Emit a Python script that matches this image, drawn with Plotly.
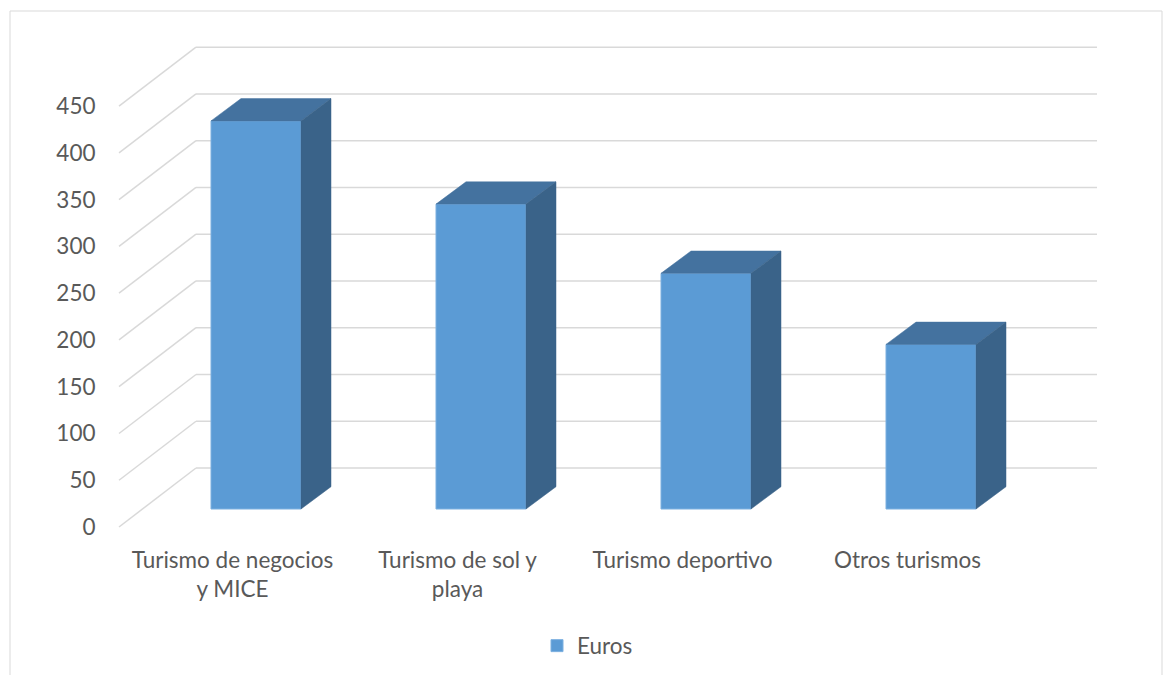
import plotly.graph_objects as go

# ---- data ----
categories = ["Turismo de negocios<br>y MICE", "Turismo de sol y<br>playa",
              "Turismo deportivo", "Otros turismos"]
values = [415, 326, 252, 176]
series_name = "Euros"
y_ticks = [0, 50, 100, 150, 200, 250, 300, 350, 400, 450]

# ---- styling / geometry ----
FRONT = "#5B9BD5"
TOP = "#44729F"
SIDE = "#3A6389"
GRID = "#D9D9D9"
TEXT = "#595959"
FONT = "Lato"
FSIZE = 22.5

W, H = 1168, 675
L, R, T, B = 117, 1110, 30, 530          # plot area in pixels
PX_X0, PX_PER_CAT = 232.5, 225.0          # pixel of category 0 (front plane), spacing
PX_Y0, PX_PER_UNIT = 527.0, 0.9352        # pixel of value 0 (front plane), px per unit

def px_to_x(p):
    return (p - PX_X0) / PX_PER_CAT

def px_to_v(p):
    return (PX_Y0 - p) / PX_PER_UNIT

x_range = [px_to_x(L), px_to_x(R)]
y_range = [px_to_v(B), px_to_v(T)]

# wall depth (3D floor / back wall)
WALL_DX = 77 / PX_PER_CAT
WALL_DV = 59 / PX_PER_UNIT
front_left = px_to_x(119)
back_left = front_left + WALL_DX
back_right = px_to_x(1097)

# bar placement in depth
BAR_SHIFT_X = 23.5 / PX_PER_CAT
BAR_BASE = 18 / PX_PER_UNIT
BAR_W = 90 / PX_PER_CAT
BAR_DX = 30 / PX_PER_CAT
BAR_DV = 22.3 / PX_PER_UNIT

fig = go.Figure()

xs = [i + BAR_SHIFT_X for i in range(len(values))]

fig.add_trace(go.Bar(
    x=xs, y=values, base=BAR_BASE, width=BAR_W, name=series_name,
    marker=dict(color=FRONT, line=dict(color="#7DB0E0", width=1)),
    showlegend=True, hoverinfo="skip"))

for xc, v in zip(xs, values):
    x0, x1 = xc - BAR_W / 2, xc + BAR_W / 2
    b, t = BAR_BASE, BAR_BASE + v
    fig.add_trace(go.Scatter(
        x=[x0, x1, x1 + BAR_DX, x0 + BAR_DX, x0],
        y=[t, t, t + BAR_DV, t + BAR_DV, t],
        fill="toself", fillcolor=TOP, mode="lines",
        line=dict(color=TOP, width=0.5), showlegend=False, hoverinfo="skip"))
    fig.add_trace(go.Scatter(
        x=[x1, x1, x1 + BAR_DX, x1 + BAR_DX, x1],
        y=[b, t, t + BAR_DV, b + BAR_DV, b],
        fill="toself", fillcolor=SIDE, mode="lines",
        line=dict(color=SIDE, width=0.5), showlegend=False, hoverinfo="skip"))

shapes = []
for v in y_ticks:
    shapes.append(dict(type="line", xref="x", yref="y", layer="below",
                       x0=front_left, y0=v, x1=back_left, y1=v + WALL_DV,
                       line=dict(color=GRID, width=1.5)))
    shapes.append(dict(type="line", xref="x", yref="y", layer="below",
                       x0=back_left, y0=v + WALL_DV, x1=back_right, y1=v + WALL_DV,
                       line=dict(color=GRID, width=1.5)))

# outer chart border
pw, ph = R - L, B - T
shapes.append(dict(type="rect", xref="paper", yref="paper", layer="below",
                   x0=(10 - L) / pw, x1=(1162 - L) / pw,
                   y0=(B - 690) / ph, y1=(B - 11) / ph,
                   line=dict(color="#D9D9D9", width=1)))

fig.update_layout(
    width=W, height=H,
    margin=dict(l=L, r=W - R, t=T, b=H - B, autoexpand=False),
    paper_bgcolor="white", plot_bgcolor="white",
    font=dict(family=FONT, size=FSIZE, color=TEXT),
    shapes=shapes,
    showlegend=True,
    legend=dict(orientation="h", x=0.5 - 26 / pw, xanchor="center",
                y=(B - 646) / ph, yanchor="middle",
                font=dict(family=FONT, size=FSIZE, color=TEXT)),
    xaxis=dict(range=x_range, tickvals=list(range(len(categories))),
               ticktext=categories, showgrid=False, zeroline=False,
               showline=False, ticks="outside", ticklen=10,
               tickcolor="rgba(0,0,0,0)", fixedrange=True, automargin=False),
    yaxis=dict(range=y_range, tickvals=y_ticks, showgrid=False,
               zeroline=False, showline=False, ticks="outside", ticklen=16,
               tickcolor="rgba(0,0,0,0)", fixedrange=True, automargin=False),
)

fig.write_html("out.html")
